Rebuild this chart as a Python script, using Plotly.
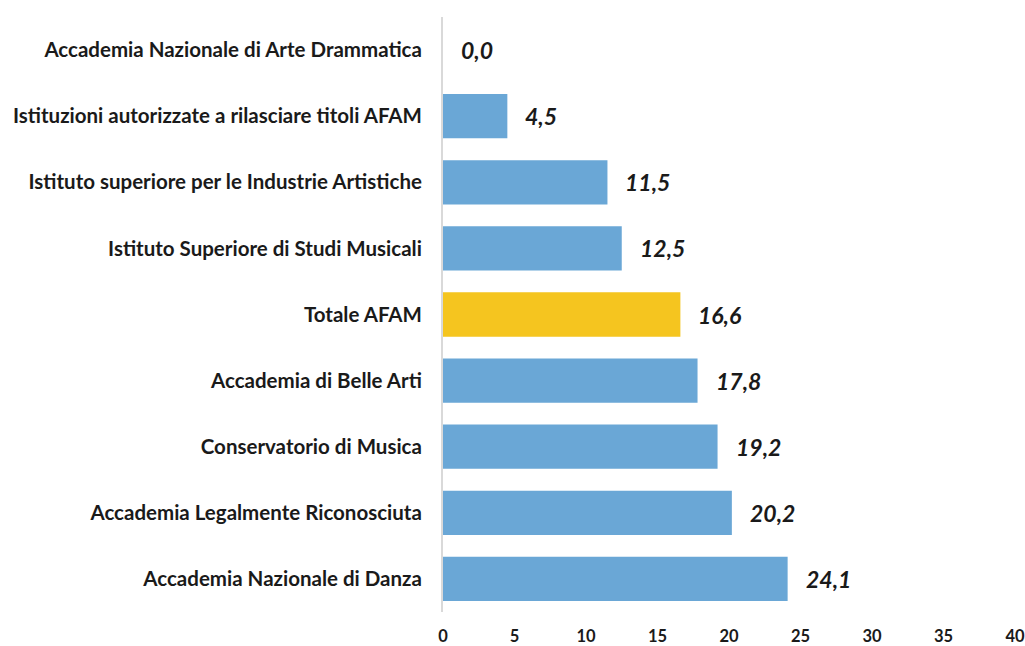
import plotly.graph_objects as go

categories = [
    "Accademia Nazionale di Arte Drammatica",
    "Istituzioni autorizzate a rilasciare titoli AFAM",
    "Istituto superiore per le Industrie Artistiche",
    "Istituto Superiore di Studi Musicali",
    "Totale AFAM",
    "Accademia di Belle Arti",
    "Conservatorio di Musica",
    "Accademia Legalmente Riconosciuta",
    "Accademia Nazionale di Danza",
]
values = [0.0, 4.5, 11.5, 12.5, 16.6, 17.8, 19.2, 20.2, 24.1]
labels = ["0,0", "4,5", "11,5", "12,5", "16,6", "17,8", "19,2", "20,2", "24,1"]
tick_vals = [0, 5, 10, 15, 20, 25, 30, 35, 40]

BLUE = "#6aa7d6"
YELLOW = "#f5c51f"
colors = [YELLOW if c == "Totale AFAM" else BLUE for c in categories]

FONT = "Lato"

fig = go.Figure()
fig.add_trace(go.Bar(
    x=values, y=categories, orientation="h",
    marker=dict(color=colors, line=dict(width=0)),
    width=0.67,
    hoverinfo="skip",
))

for c, v, t in zip(categories, values, labels):
    fig.add_annotation(
        x=v, y=c, text="<b><i>%s</i></b>" % t, showarrow=False,
        xanchor="left", xshift=16, yanchor="middle",
        font=dict(family=FONT, size=23, color="#1a1a1a"),
    )

fig.update_layout(
    width=1025, height=646,
    margin=dict(l=443, r=10, t=17, b=34),
    paper_bgcolor="white", plot_bgcolor="white",
    showlegend=False,
    bargap=0.33,
)
fig.update_xaxes(
    range=[0, 40], tickvals=tick_vals, ticktext=[str(v) for v in tick_vals],
    showgrid=False, zeroline=False, showline=False,
    ticks="outside", ticklen=9, tickcolor="white",
    tickfont=dict(family=FONT, size=16.5, color="#1a1a1a", weight="bold"),
    fixedrange=True, automargin=False,
)
fig.update_yaxes(
    categoryorder="array", categoryarray=categories[::-1],
    showgrid=False, zeroline=False,
    showline=True, linecolor="#d9d9d9", linewidth=2,
    ticks="outside", ticklen=15, tickcolor="white",
    tickfont=dict(family=FONT, size=20.5, color="#1a1a1a", weight="bold"),
    fixedrange=True, automargin=False,
)

fig.write_html("out.html", config={"displayModeBar": False})

with open("out.html", "r", encoding="utf-8") as f:
    html = f.read()
html = html.replace("<head>", "<head><style>html,body{margin:0;padding:0;overflow:hidden;}</style>", 1)
with open("out.html", "w", encoding="utf-8") as f:
    f.write(html)
